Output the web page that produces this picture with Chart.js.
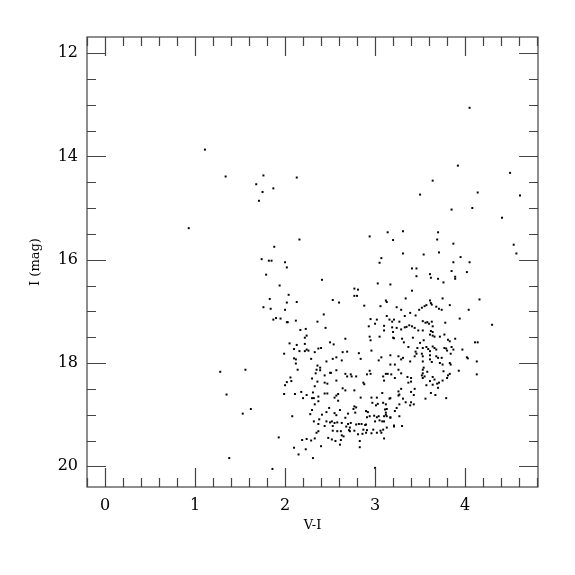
<!DOCTYPE html>
<html lang="en">
<head>
    <meta charset="UTF-8">
    <title>CMD</title>
    <script src="https://cdn.jsdelivr.net/npm/chart.js"></script>
    <style>
        body { margin: 0; background: #fff; }
        #wrap { width: 575px; height: 575px; }
    </style>
</head>
<body>
    <div id="wrap"><canvas id="chart" width="575" height="575"></canvas></div>
    <script>
        // star colours (V-I) and magnitudes (I)
        const vi = [
            0.93, 1.11, 1.34, 1.76, 1.68, 1.87, 1.75, 1.71, 1.88, 1.74, 1.82, 1.85, 1.79, 2.13, 2.16,
            1.56, 1.28, 1.35, 1.62, 1.53, 1.38, 1.86, 2.00, 2.02,
            1.94, 2.04, 1.83, 2.02, 2.13, 1.76, 1.84, 2.00, 1.90, 1.87, 1.95, 2.02, 2.03, 2.12, 2.36,
            2.17, 2.23, 2.24, 2.22, 2.05, 2.13, 2.22, 2.10, 2.16, 2.22, 2.24, 2.26, 2.37, 2.33, 1.99,
            2.10, 2.12, 2.29, 2.12, 2.36, 2.14, 2.35, 2.34,
            2.06, 2.30, 2.02, 2.07, 2.36, 2.00, 2.33, 1.99, 2.11, 2.18, 2.24, 2.20, 2.31, 2.30, 2.32,
            2.37, 2.37, 2.33, 2.30, 2.28, 2.08, 2.32, 2.37, 2.37, 2.35, 2.33, 1.93, 2.19, 2.24, 2.29,
            2.10, 2.23, 2.15, 2.31,
            2.41, 3.03, 3.17, 2.77, 2.81, 2.77, 2.80, 2.53, 2.60, 3.12, 3.13, 2.88, 3.06, 2.43, 3.13,
            2.95, 3.02, 3.16, 3.19, 3.21, 3.00, 2.93, 3.10, 2.45, 3.19, 3.10, 3.20, 2.94, 3.05, 2.67,
            3.21, 2.95, 2.50, 2.54, 2.40, 2.64, 2.69, 2.82, 2.96, 3.17, 3.07, 2.57, 2.53, 2.63, 2.84,
            3.04, 2.46, 2.39, 3.17, 2.39, 2.57, 2.50, 2.51, 2.67, 2.94, 2.95, 3.12, 3.14,
            2.44, 2.69, 2.73, 2.74, 2.79, 2.91, 3.09, 3.18, 3.10, 2.44, 2.47, 2.57, 2.87, 2.88, 2.64,
            2.67, 2.77, 2.44, 2.47, 2.59, 2.57, 2.55, 2.84, 2.96, 3.02, 3.08, 3.17, 2.97, 3.03, 3.01,
            3.09, 3.12, 2.59, 2.49, 2.77, 2.79, 2.76, 2.90, 2.92, 3.11, 3.13, 3.12, 2.41, 2.46, 2.55,
            2.57, 2.61, 2.70, 2.78, 2.91, 2.94, 2.99, 3.02, 3.04, 3.10, 3.12, 3.13, 3.17, 2.67, 2.38,
            2.46, 2.50, 2.52, 2.55, 2.58, 2.63, 2.70, 2.73, 2.79, 2.82, 2.85, 2.89, 2.90, 3.00, 3.05,
            3.08, 3.10, 2.44, 2.53, 2.68, 2.72, 2.77, 2.87, 2.91, 2.98, 3.06, 3.09, 3.13, 3.21, 2.53,
            2.58, 2.62, 2.71, 2.72, 2.65, 2.63, 2.81, 2.86, 2.90, 2.96, 3.02, 3.07, 2.48, 2.52, 2.56,
            2.62, 2.61, 2.83, 3.10, 2.40, 2.83, 3.00,
            3.31, 3.70, 3.20, 3.69, 3.87, 3.31, 3.54, 3.71, 3.95, 3.87, 4.05, 3.41, 3.46, 3.85, 4.02,
            3.61, 3.46, 3.62, 3.70, 3.89, 3.89, 3.76, 3.41, 3.34, 3.75,
            3.61, 3.62, 3.24, 3.29, 3.52, 3.55, 3.57, 3.63, 3.68, 3.71, 3.74, 3.83, 4.04, 3.49, 3.27,
            3.33, 3.39, 3.45, 3.53, 3.56, 3.58, 3.60, 3.63, 3.78, 3.94, 3.24, 3.29, 3.33, 3.35, 3.38,
            3.41, 3.44, 3.48, 3.53, 3.62, 3.64, 3.64, 3.20, 3.30, 3.42, 3.54, 3.61, 3.64, 3.66, 3.72,
            3.77, 3.81, 3.83, 3.89, 3.32, 3.37, 3.50, 3.47, 3.53, 3.57, 3.59, 3.61, 3.64, 3.66, 3.68,
            3.77, 3.79, 3.80, 3.85, 3.87, 3.97, 4.11, 4.14, 3.45, 3.46, 3.44, 3.52, 3.53, 3.61, 3.68,
            3.70, 3.74, 3.84, 4.02, 4.03, 4.13, 3.26, 3.29, 3.31, 3.22, 3.39, 3.53, 3.61, 3.63, 3.72,
            3.75, 3.83, 3.84, 3.26, 3.53, 3.54, 3.58, 3.29, 3.76, 3.93,
            3.22, 3.36, 3.40, 3.53, 3.52, 3.55, 3.53, 3.64, 3.66, 3.83, 3.81, 3.80, 4.13, 3.40, 3.37,
            3.61, 3.57, 3.64, 3.69, 3.71, 3.75, 3.70, 3.29, 3.26, 3.27, 3.26, 3.40, 3.44, 3.43, 3.62,
            3.67, 3.16, 3.31, 3.56, 3.79, 3.34, 3.40, 3.27, 3.39, 3.43, 3.24, 3.22, 3.27, 3.17, 3.21,
            3.30,
            3.14, 3.07, 3.05,
            4.05, 3.92, 4.50, 4.61, 4.14, 4.41, 4.08, 3.85, 4.54, 4.57, 3.50, 3.64, 4.16, 4.30, 2.94
        ];
        const imag = [
            15.39, 13.87, 14.39, 14.37, 14.54, 14.62, 14.69, 14.86, 15.75, 15.99, 16.02, 16.02, 16.29, 14.41, 15.61,
            18.13, 18.17, 18.61, 18.89, 18.98, 19.84, 20.05, 16.05, 16.15,
            16.50, 16.68, 16.76, 16.83, 16.82, 16.92, 16.95, 16.97, 17.13, 17.16, 17.14, 17.21, 17.21, 17.18, 17.20,
            17.36, 17.34, 17.47, 17.51, 17.62, 17.65, 17.63, 17.73, 17.77, 17.77, 17.74, 17.76, 17.72, 17.79, 17.82,
            17.91, 17.93, 17.92, 18.01, 18.05, 18.13, 18.13, 18.20,
            18.28, 18.30, 18.37, 18.35, 18.36, 18.43, 18.45, 18.60, 18.60, 18.56, 18.62, 18.68, 18.57, 18.68, 18.68,
            18.65, 18.74, 18.80, 18.91, 18.99, 19.03, 19.13, 19.18, 19.32, 19.35, 19.46, 19.44, 19.49, 19.47, 19.50,
            19.64, 19.67, 19.77, 19.84,
            16.39, 16.46, 16.48, 16.56, 16.58, 16.70, 16.70, 16.78, 16.83, 16.79, 16.82, 16.89, 16.90, 17.06, 17.09,
            17.15, 17.16, 17.16, 17.20, 17.16, 17.24, 17.29, 17.28, 17.32, 17.31, 17.37, 17.40, 17.49, 17.49, 17.53,
            17.52, 17.56, 17.60, 17.64, 17.71, 17.79, 17.78, 17.81, 17.76, 17.85, 17.89, 17.89, 17.92, 17.95, 17.92,
            17.95, 17.97, 18.09, 18.03, 18.14, 18.14, 18.19, 18.19, 18.21, 18.15, 18.21, 18.21, 18.21,
            18.24, 18.26, 18.22, 18.26, 18.26, 18.22, 18.26, 18.22, 18.34, 18.38, 18.40, 18.34, 18.38, 18.41, 18.49,
            18.53, 18.53, 18.59, 18.59, 18.60, 18.63, 18.67, 18.67, 18.67, 18.67, 18.58, 18.68, 18.77, 18.79, 18.82,
            18.77, 18.80, 18.73, 18.87, 18.84, 18.86, 18.89, 18.93, 18.95, 18.90, 18.89, 18.96, 19.00, 18.95, 18.97,
            19.01, 18.91, 18.98, 18.96, 19.05, 19.03, 19.02, 19.05, 19.03, 19.03, 19.00, 19.03, 19.05, 19.06, 19.09,
            19.13, 19.15, 19.13, 19.16, 19.15, 19.16, 19.18, 19.16, 19.19, 19.18, 19.18, 19.20, 19.19, 19.13, 19.11,
            19.13, 19.13, 19.22, 19.22, 19.23, 19.25, 19.31, 19.29, 19.30, 19.29, 19.31, 19.29, 19.25, 19.23, 19.31,
            19.32, 19.32, 19.30, 19.32, 19.42, 19.40, 19.38, 19.37, 19.35, 19.36, 19.35, 19.35, 19.45, 19.48, 19.51,
            19.49, 19.58, 19.51, 19.46, 19.61, 19.63, 20.03,
            15.45, 15.47, 15.62, 15.61, 15.69, 15.88, 15.90, 15.86, 15.95, 16.05, 16.05, 16.17, 16.17, 16.22, 16.24,
            16.28, 16.32, 16.35, 16.37, 16.33, 16.37, 16.44, 16.60, 16.75, 16.75,
            16.79, 16.84, 16.92, 16.97, 16.93, 16.90, 16.88, 16.87, 16.91, 16.95, 16.97, 16.88, 16.97, 16.97, 17.20,
            17.09, 17.03, 17.08, 17.19, 17.22, 17.21, 17.24, 17.20, 17.22, 17.14, 17.32, 17.35, 17.31, 17.30, 17.27,
            17.29, 17.32, 17.37, 17.37, 17.38, 17.40, 17.29, 17.51, 17.53, 17.51, 17.56, 17.45, 17.47, 17.49, 17.49,
            17.45, 17.55, 17.58, 17.53, 17.60, 17.69, 17.61, 17.71, 17.71, 17.69, 17.73, 17.77, 17.68, 17.71, 17.74,
            17.71, 17.72, 17.76, 17.69, 17.74, 17.74, 17.60, 17.60, 17.78, 17.82, 17.87, 17.82, 17.87, 17.85, 17.87,
            17.90, 17.90, 17.82, 17.89, 17.91, 17.97, 17.87, 17.93, 17.90, 18.03, 17.97, 17.97, 17.93, 17.98, 18.00,
            18.03, 18.00, 18.03, 18.13, 18.13, 18.09, 18.17, 18.20, 18.16, 18.15,
            18.29, 18.27, 18.29, 18.20, 18.24, 18.26, 18.29, 18.27, 18.32, 18.21, 18.24, 18.29, 18.22, 18.36, 18.38,
            18.35, 18.43, 18.42, 18.40, 18.38, 18.34, 18.48, 18.50, 18.55, 18.61, 18.63, 18.56, 18.50, 18.62, 18.58,
            18.62, 18.69, 18.69, 18.69, 18.68, 18.76, 18.76, 18.80, 18.82, 18.80, 18.87, 18.93, 19.03, 19.06, 19.21,
            19.22,
            15.47, 15.97, 16.06,
            13.06, 14.18, 14.32, 14.76, 14.70, 15.19, 15.00, 15.03, 15.71, 15.88, 14.74, 14.47, 16.77, 17.26, 15.55
        ];

        const xMajor = [0, 1, 2, 3, 4];
        const yMajor = [12, 14, 16, 18, 20];

        const points = vi.map((v, i) => ({ x: v, y: imag[i] }));

        // inward ticks on all four sides plus the box
        const frameTicks = {
            id: 'frameTicks',
            afterDraw(chart) {
                const { ctx, chartArea: a, scales: { x, y } } = chart;
                ctx.save();
                ctx.strokeStyle = '#444';
                ctx.lineWidth = 1.2;
                ctx.strokeRect(a.left, a.top, a.right - a.left, a.bottom - a.top);
                ctx.beginPath();
                for (let k = -1; k <= 24; k++) {
                    const v = k * 0.2;
                    if (v < x.min || v > x.max) continue;
                    const px = Math.round(x.getPixelForValue(v)) + 0.5;
                    const len = k % 5 === 0 ? 19 : 9;
                    ctx.moveTo(px, a.bottom); ctx.lineTo(px, a.bottom - len);
                    ctx.moveTo(px, a.top); ctx.lineTo(px, a.top + len);
                }
                for (let k = 23; k <= 41; k++) {
                    const v = k * 0.5;
                    if (v < y.min || v > y.max) continue;
                    const py = Math.round(y.getPixelForValue(v)) + 0.5;
                    const len = k % 4 === 0 ? 19 : 9;
                    ctx.moveTo(a.left, py); ctx.lineTo(a.left + len, py);
                    ctx.moveTo(a.right, py); ctx.lineTo(a.right - len, py);
                }
                ctx.stroke();
                ctx.restore();
            }
        };

        const serif = 'DejaVu Serif';

        new Chart(document.getElementById('chart'), {
            type: 'scatter',
            data: {
                datasets: [{
                    data: points,
                    pointStyle: 'rect',
                    pointRadius: 1.4,
                    pointBorderWidth: 0,
                    backgroundColor: '#000',
                    borderColor: '#000'
                }]
            },
            options: {
                responsive: false,
                animation: false,
                layout: { padding: { top: 37, right: 37, left: 28, bottom: 42 } },
                plugins: { legend: { display: false }, tooltip: { enabled: false } },
                scales: {
                    x: {
                        min: -0.2, max: 4.81,
                        afterBuildTicks: s => { s.ticks = xMajor.map(v => ({ value: v })); },
                        afterFit: s => { s.height = 575 - 42 - 487; },
                        grid: { display: false, drawTicks: false },
                        border: { display: false },
                        ticks: { color: '#000', padding: 9, font: { family: serif, size: 16 } },
                        title: { display: true, text: 'V-I', color: '#000', padding: 0, font: { family: serif, size: 13 } }
                    },
                    y: {
                        reverse: true,
                        min: 11.69, max: 20.4,
                        afterBuildTicks: s => { s.ticks = yMajor.map(v => ({ value: v })); },
                        afterFit: s => { s.width = 87 - 28; },
                        grid: { display: false, drawTicks: false },
                        border: { display: false },
                        ticks: { color: '#000', padding: 9, font: { family: serif, size: 16 } },
                        title: { display: true, text: 'I (mag)', color: '#000', padding: 0, font: { family: serif, size: 13 } }
                    }
                }
            },
            plugins: [frameTicks]
        });
    </script>
</body>
</html>
